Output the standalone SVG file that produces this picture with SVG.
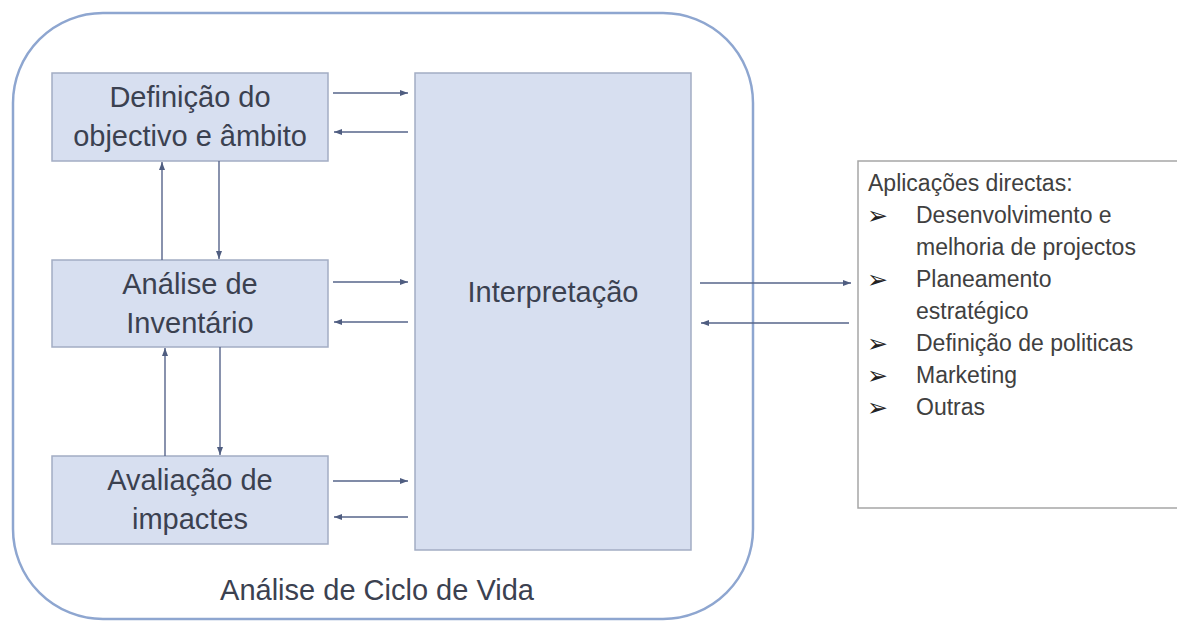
<svg xmlns="http://www.w3.org/2000/svg" width="1177" height="623" viewBox="0 0 1177 623">
  <defs>
    <marker id="ah" viewBox="0 0 8 6" refX="8" refY="3" markerWidth="8" markerHeight="6" markerUnits="userSpaceOnUse" orient="auto">
      <path d="M0,0 L8,3 L0,6 Z" fill="#4f5d80"/>
    </marker>
  </defs>
  <style>
    .box { fill: #d7dff0; stroke: #a3adc4; stroke-width: 1.5; }
    .lbl { font-family: "Liberation Sans", Arial, sans-serif; font-size: 29px; fill: #3b4150; text-anchor: middle; }
    .app { font-family: "Liberation Sans", Arial, sans-serif; font-size: 23px; fill: #404040; }
    .bul { font-family: "DejaVu Sans", sans-serif; font-size: 25px; fill: #222222; }
    .con line { stroke: #56648a; stroke-width: 1.4; fill: none; marker-end: url(#ah); }
  </style>
  <rect width="1177" height="623" fill="#ffffff"/>

  <g id="ciclo">
    <rect x="13" y="13" width="740" height="606" rx="90" ry="90" fill="#ffffff" stroke="#8ea6d0" stroke-width="2.5"/>
    <text class="lbl" x="377" y="600" font-size="28" fill="#404654">Análise de Ciclo de Vida</text>
  </g>

  <g id="definicao">
    <rect class="box" x="52" y="73" width="276" height="88"/>
    <text class="lbl" x="190" y="107">Definição do</text>
    <text class="lbl" x="190" y="146">objectivo e âmbito</text>
  </g>

  <g id="inventario">
    <rect class="box" x="52" y="260" width="276" height="87"/>
    <text class="lbl" x="190" y="294">Análise de</text>
    <text class="lbl" x="190" y="333">Inventário</text>
  </g>

  <g id="avaliacao">
    <rect class="box" x="52" y="456" width="276" height="88"/>
    <text class="lbl" x="190" y="490">Avaliação de</text>
    <text class="lbl" x="190" y="529">impactes</text>
  </g>

  <g id="interpretacao">
    <rect class="box" x="415" y="73" width="276" height="477"/>
    <text class="lbl" x="553" y="302">Interpretação</text>
  </g>

  <g id="aplicacoes">
    <rect x="858" y="161" width="330" height="347" fill="#ffffff" stroke="#a6a6a6" stroke-width="1.5"/>
    <text class="app" x="868" y="191">Aplicações directas:</text>
    <text class="bul" x="867" y="224">➢</text>
    <text class="app" x="916" y="223">Desenvolvimento e</text>
    <text class="app" x="916" y="255">melhoria de projectos</text>
    <text class="bul" x="867" y="288">➢</text>
    <text class="app" x="916" y="287">Planeamento</text>
    <text class="app" x="916" y="319">estratégico</text>
    <text class="bul" x="867" y="352">➢</text>
    <text class="app" x="916" y="351">Definição de politicas</text>
    <text class="bul" x="867" y="384">➢</text>
    <text class="app" x="916" y="383">Marketing</text>
    <text class="bul" x="867" y="416">➢</text>
    <text class="app" x="916" y="415">Outras</text>
  </g>

  <g id="connectors" class="con">
    <line x1="333" y1="93" x2="408" y2="93"/>
    <line x1="408" y1="132" x2="334" y2="132"/>
    <line x1="333" y1="282" x2="408" y2="282"/>
    <line x1="408" y1="322" x2="334" y2="322"/>
    <line x1="333" y1="481" x2="408" y2="481"/>
    <line x1="408" y1="517" x2="334" y2="517"/>
    <line x1="162" y1="260" x2="162" y2="162"/>
    <line x1="219" y1="161" x2="219" y2="259"/>
    <line x1="165" y1="456" x2="165" y2="348"/>
    <line x1="220" y1="347" x2="220" y2="455"/>
    <line x1="700" y1="283" x2="851" y2="283"/>
    <line x1="849" y1="323" x2="701" y2="323"/>
  </g>
</svg>
